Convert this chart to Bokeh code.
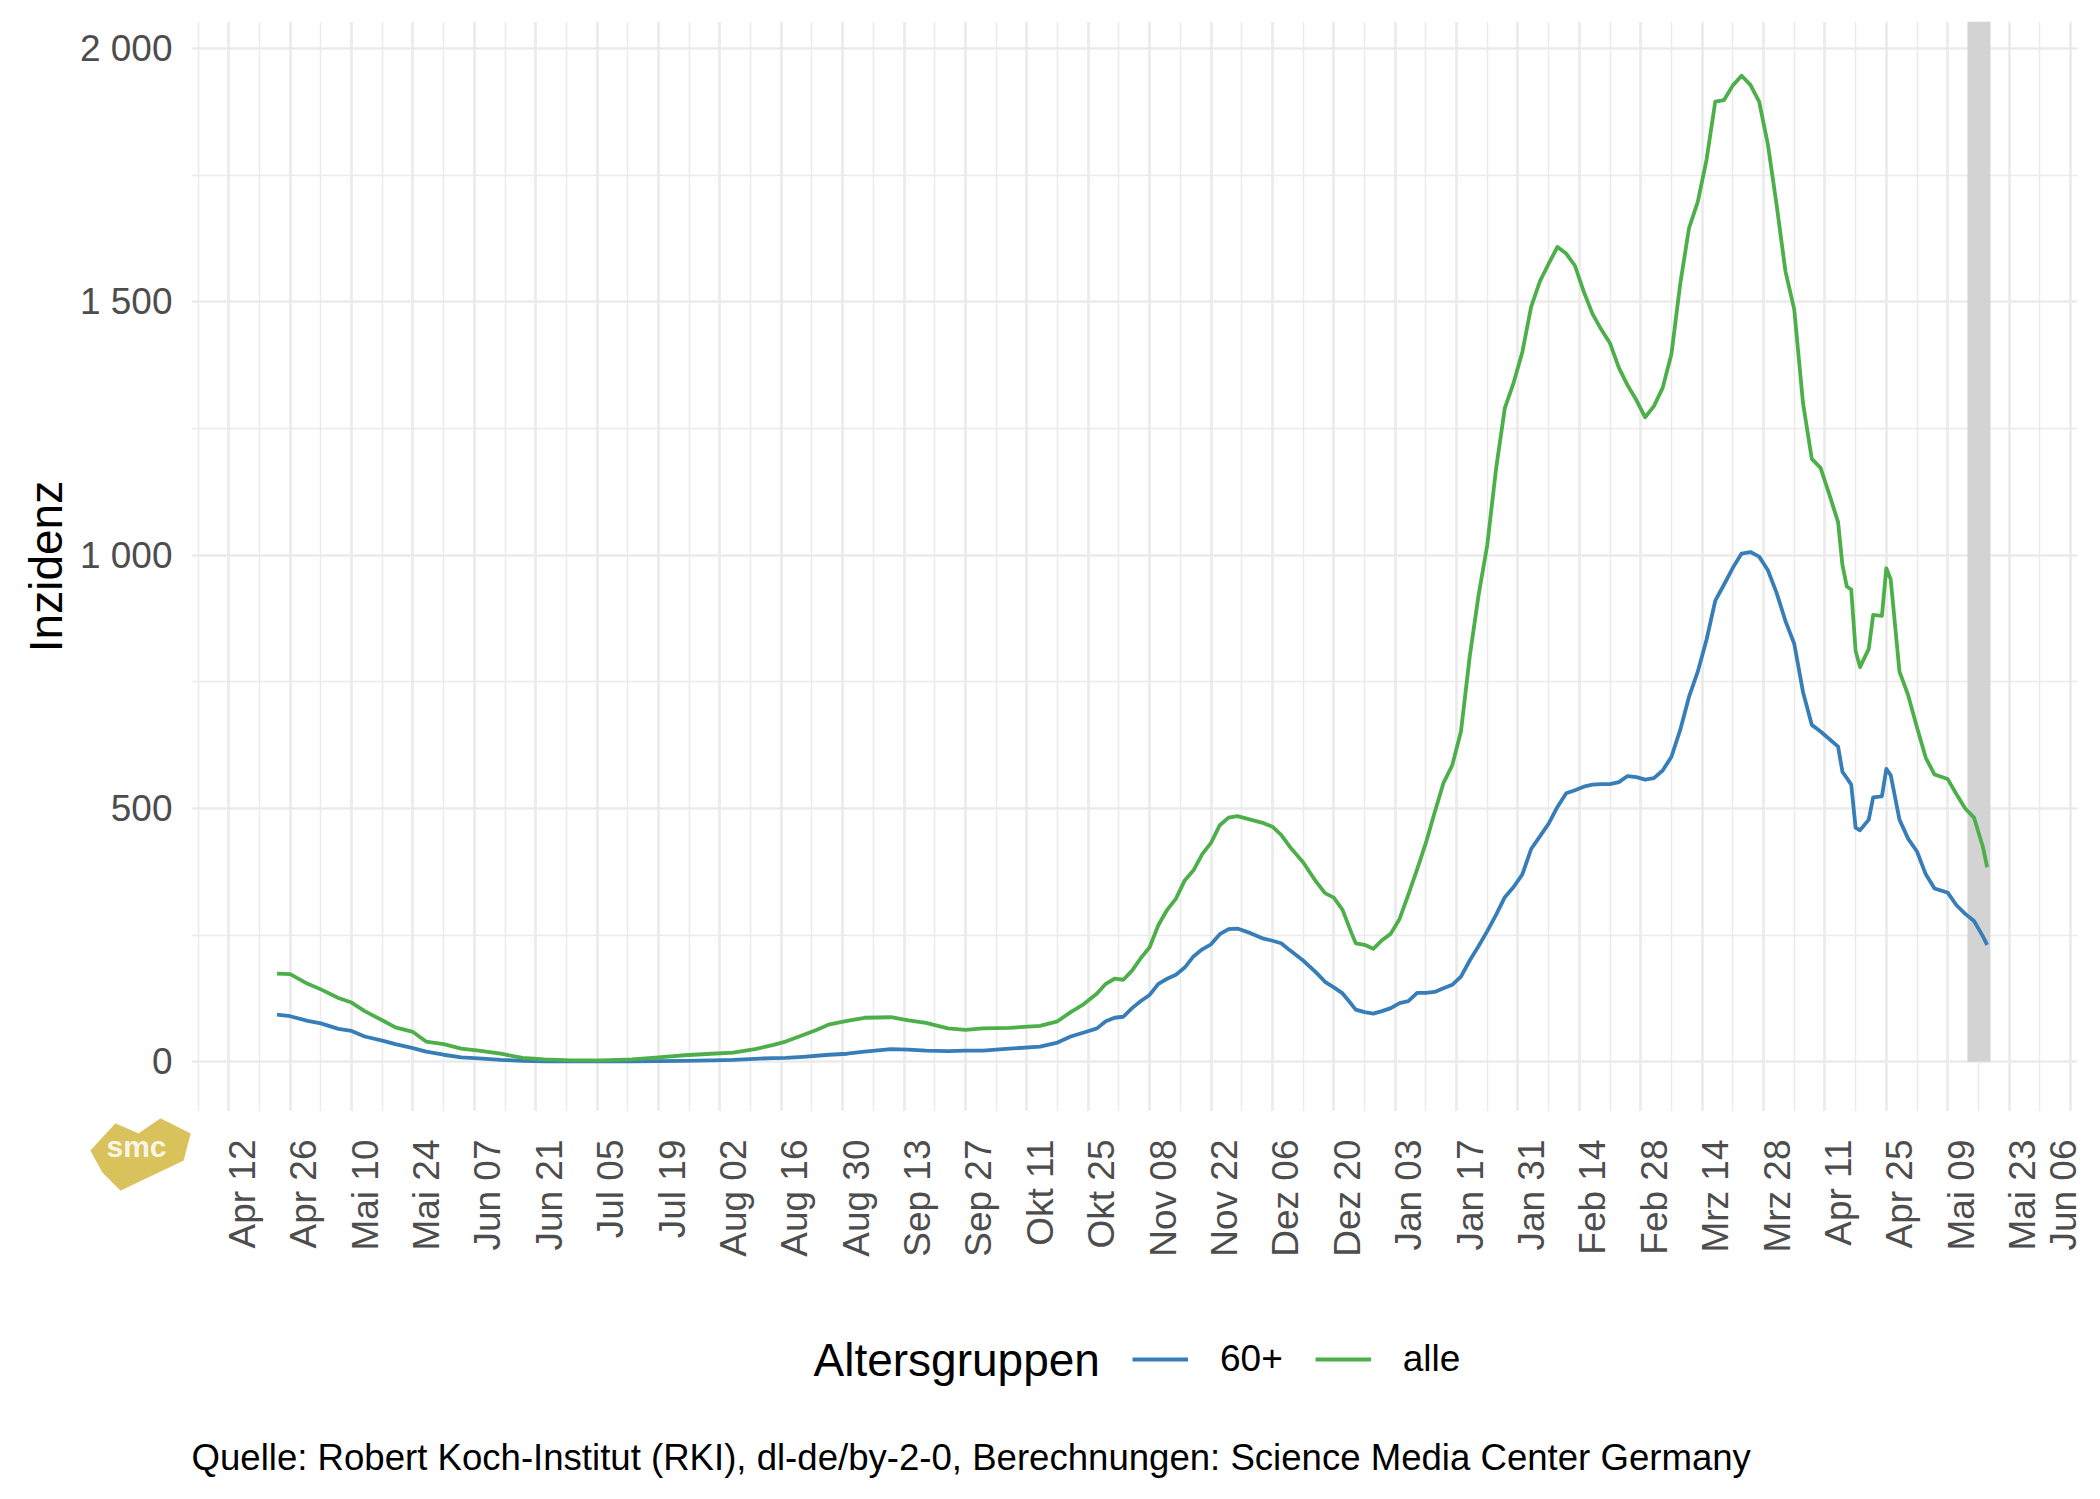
import math
from bokeh.plotting import figure
from bokeh.layouts import column, row
from bokeh.models import (Range1d, FixedTicker, Legend, LegendItem, Label, ColumnDataSource)
from bokeh.core.properties import value
from bokeh.embed import file_html
from bokeh.resources import INLINE

# ---------------- data ----------------
# days since 2020-04-12 (Apr 12 2020 = 0)
day = [11, 14, 18, 21, 25, 28, 31, 35, 38, 42, 45, 49, 53, 57, 62, 67, 72, 78, 85, 92,
       98, 104, 110, 115, 120, 124, 127, 131, 134, 137, 141, 145, 151, 155, 159, 164, 168, 172, 178, 185,
       189, 192, 195, 198, 200, 202, 204, 206, 208, 210, 212, 214, 216, 218, 220, 222, 224, 226, 228, 230,
       233, 236, 238, 240, 242, 245, 248, 250, 252, 254, 256, 257, 259, 261, 263, 265, 267, 269, 271, 273,
       275, 277, 279, 281, 283, 285, 287, 289, 291, 293, 295, 297, 299, 301, 303, 305, 307, 309, 311, 313,
       315, 317, 319, 321, 323, 325, 327, 329, 331, 333, 335, 337, 339, 341, 343, 345, 347, 349, 351, 353,
       355, 357, 359, 361, 363, 365, 367, 368, 369, 370, 371, 372, 374, 375, 377, 378, 379, 381, 383, 385,
       387, 389, 392, 394, 396, 398, 400, 401]

alle = [174, 173, 154, 143, 126, 117, 100, 82, 68, 59, 40, 35, 26, 22, 16, 8, 5, 3, 3, 5,
        9, 13, 16, 18, 25, 33, 40, 53, 63, 74, 81, 87, 88, 82, 77, 66, 63, 66, 67, 71,
        80, 98, 114, 135, 154, 164, 162, 180, 205, 226, 270, 300, 322, 358, 378, 410, 432, 467, 482, 485,
        478, 471, 464, 448, 424, 394, 355, 333, 324, 300, 255, 234, 231, 223, 240, 253, 282, 330, 380, 432,
        492, 550, 585, 652, 800, 920, 1020, 1170, 1290, 1340, 1401, 1490, 1540, 1575, 1608, 1595, 1571, 1520, 1476, 1445,
        1418, 1370, 1335, 1306, 1272, 1294, 1330, 1397, 1535, 1645, 1697, 1780, 1895, 1898, 1927, 1946, 1928, 1895, 1810, 1690,
        1560, 1485, 1300, 1190, 1172, 1120, 1065, 980, 938, 932, 811, 779, 815, 882, 880, 974, 952, 770, 723, 660,
        600, 567, 558, 528, 500, 482, 425, 384]

sechzig_plus = [93, 90, 81, 76, 65, 61, 50, 42, 35, 27, 20, 14, 9, 7, 4, 2, 1, 1, 1, 1,
                1.5, 2, 3, 4, 6, 7.5, 8, 10, 12, 14, 16, 20, 25, 24, 22, 21, 22, 22, 26, 30,
                38, 50, 58, 66, 80, 87, 89, 106, 120, 132, 154, 164, 172, 186, 208, 222, 232, 252, 262, 263,
                254, 243, 239, 234, 220, 200, 176, 158, 147, 135, 114, 103, 98, 95, 100, 106, 116, 120, 136, 136,
                138, 145, 152, 168, 200, 228, 258, 290, 325, 345, 370, 420, 445, 470, 503, 530, 536, 543, 547, 548,
                548, 552, 564, 562, 557, 560, 575, 602, 655, 720, 770, 833, 910, 942, 975, 1003, 1006, 997, 970, 925,
                870, 825, 730, 665, 652, 637, 622, 572, 560, 547, 462, 457, 478, 522, 524, 578, 566, 478, 440, 415,
                370, 342, 334, 309, 292, 278, 248, 231]

assert len(day) == len(alle) == len(sechzig_plus)

x_tick_labels = ["Apr 12", "Apr 26", "Mai 10", "Mai 24", "Jun 07", "Jun 21", "Jul 05", "Jul 19",
                 "Aug 02", "Aug 16", "Aug 30", "Sep 13", "Sep 27", "Okt 11", "Okt 25", "Nov 08",
                 "Nov 22", "Dez 06", "Dez 20", "Jan 03", "Jan 17", "Jan 31", "Feb 14", "Feb 28",
                 "Mrz 14", "Mrz 28", "Apr 11", "Apr 25", "Mai 09", "Mai 23", "Jun 06"]
x_tick_days = [14 * i for i in range(len(x_tick_labels))]
x_minor_days = [7 + 14 * i for i in range(-1, len(x_tick_labels) - 1)]

y_ticks = [0, 500, 1000, 1500, 2000]
y_minor = [250, 750, 1250, 1750]
y_tick_labels = ["0", "500", "1 000", "1 500", "2 000"]

series_names = ["60+", "alle"]
series_colors = ["#377EB8", "#4DAF4A"]

legend_title = "Altersgruppen"
y_title = "Inzidenz"
caption = "Quelle: Robert Koch-Institut (RKI), dl-de/by-2-0, Berechnungen: Science Media Center Germany"

# ---------------- layout constants ----------------
FONT = "Liberation Sans"
W = 2084
H_TOTAL = 1483
FRAME_L, FRAME_R, FRAME_T, FRAME_B = 191, 2077, 21, 1111
X0, X1 = -8.5, 421.6
Y0, Y1 = -98, 2053
GRID = "#EBEBEB"
LW = 3.8

# ---------------- main panel ----------------
p = figure(width=W, height=FRAME_B, output_backend="svg", toolbar_location=None,
           x_range=Range1d(X0, X1), y_range=Range1d(Y0, Y1), x_axis_location=None,
           min_border_left=FRAME_L, min_border_top=FRAME_T, min_border_right=W - FRAME_R,
           min_border_bottom=0)
p.outline_line_color = None
p.background_fill_color = "white"
p.border_fill_color = "white"

p.xgrid.ticker = FixedTicker(ticks=x_tick_days, minor_ticks=x_minor_days)
p.xgrid.grid_line_color = GRID
p.xgrid.grid_line_width = 2.7
p.xgrid.minor_grid_line_color = GRID
p.xgrid.minor_grid_line_width = 1.5

p.yaxis.ticker = FixedTicker(ticks=y_ticks, minor_ticks=y_minor)
p.ygrid.ticker = FixedTicker(ticks=y_ticks, minor_ticks=y_minor)
p.ygrid.grid_line_color = GRID
p.ygrid.grid_line_width = 2.7
p.ygrid.minor_grid_line_color = GRID
p.ygrid.minor_grid_line_width = 1.5

ya = p.yaxis[0]
ya.major_label_overrides = {v: l for v, l in zip(y_ticks, y_tick_labels)}
ya.axis_line_color = None
ya.major_tick_line_color = None
ya.minor_tick_line_color = None
ya.major_tick_out = 0
ya.major_tick_in = 0
ya.major_label_standoff = 15
ya.major_label_text_font = FONT
ya.major_label_text_font_size = "37px"
ya.major_label_text_color = "#4D4D4D"
ya.axis_label = y_title
ya.axis_label_text_font = FONT
ya.axis_label_text_font_size = "46px"
ya.axis_label_text_font_style = "normal"
ya.axis_label_text_color = "black"
ya.axis_label_standoff = 5

# shaded band: last days of the series
band_left = day[-1] - 4.5
band_right = day[-1] + 0.75
p.quad(left=[band_left], right=[band_right], bottom=[0], top=[Y1],
       fill_color="#D3D3D3", line_color=None)

src = ColumnDataSource(dict(day=day, alle=alle, s60=sechzig_plus))
p.line("day", "s60", source=src, line_color=series_colors[0], line_width=LW, line_join="round")
p.line("day", "alle", source=src, line_color=series_colors[1], line_width=LW, line_join="round")

# ---------------- bottom strip ----------------
H2 = H_TOTAL - FRAME_B
ppd = (FRAME_R - FRAME_L) / (X1 - X0)          # pixels per day of the main panel
QW = W - FRAME_L

def strip(width, xr):
    f = figure(width=width, height=H2, output_backend="svg", toolbar_location=None,
               x_range=xr, y_range=Range1d(-H2, 0), x_axis_location=None, y_axis_location=None,
               min_border=0, min_border_left=0, min_border_right=0, min_border_top=0, min_border_bottom=0)
    f.outline_line_color = None
    f.grid.visible = False
    f.background_fill_color = "white"
    f.border_fill_color = "white"
    return f

# left piece: logo
lfig = strip(FRAME_L, Range1d(0, FRAME_L))
try:
    from bokeh.models import PolyAnnotation
    lx = [90, 115, 138, 160, 190, 183, 120, 102]
    ly = [1150, 1123, 1133, 1118, 1133, 1160, 1190, 1172]
    logo = PolyAnnotation(xs=lx, ys=[H_TOTAL - v for v in ly],
                          xs_units="screen", ys_units="screen",
                          fill_color="#D9C25C", fill_alpha=1.0, line_color="#D9C25C", line_width=1)
    lfig.add_layout(logo)
except Exception:
    pass
lfig.add_layout(Label(x=136, y=H_TOTAL - 1146, x_units="screen", y_units="screen", text="smc",
                      text_font=FONT, text_font_size="30px", text_font_style="bold",
                      text_color="white", text_alpha=0.85, text_baseline="middle", text_align="center"))

# right piece: x tick labels, legend, caption (same day scale as the main panel)
q = strip(QW, Range1d(X0, X0 + QW / ppd))

offs = [-7] * len(x_tick_days)
offs[-1] = -27          # keep the last label inside the page
lab_src = ColumnDataSource(dict(x=x_tick_days, y=[-28] * len(x_tick_days), t=x_tick_labels, o=offs))
q.text(x="x", y="y", text="t", x_offset="o", source=lab_src, angle=math.pi / 2,
       text_align="right", text_baseline="top", text_font=value(FONT),
       text_font_size=value("37px"), text_color="#4D4D4D")

d60 = q.line(x=[X0 - 60, X0 - 50], y=[0, 0], line_color=series_colors[0], line_width=LW)
dalle = q.line(x=[X0 - 60, X0 - 50], y=[0, 0], line_color=series_colors[1], line_width=LW)
legend = Legend(items=[LegendItem(label=series_names[0], renderers=[d60]),
                       LegendItem(label=series_names[1], renderers=[dalle])],
                orientation="horizontal", location=(1132 - FRAME_L, H2 - 248 - 22),
                glyph_width=56, glyph_height=44, label_height=44, label_standoff=32, spacing=32,
                padding=0, margin=0, border_line_color=None, background_fill_alpha=0,
                label_text_font=FONT, label_text_font_size="37px", label_text_color="black")
q.add_layout(legend)

q.add_layout(Label(x=813 - FRAME_L, y=H2 - 248, x_units="screen", y_units="screen", text=legend_title,
                   text_font=FONT, text_font_size="46px", text_color="black",
                   text_baseline="middle", text_align="left"))

q.add_layout(Label(x=0, y=H2 - 346, x_units="screen", y_units="screen", text=caption,
                   text_font=FONT, text_font_size="36.6px", text_color="black",
                   text_baseline="middle", text_align="left"))

layout = column(p, row(lfig, q, spacing=0), spacing=0)
open("out.html", "w").write(file_html(layout, INLINE))
